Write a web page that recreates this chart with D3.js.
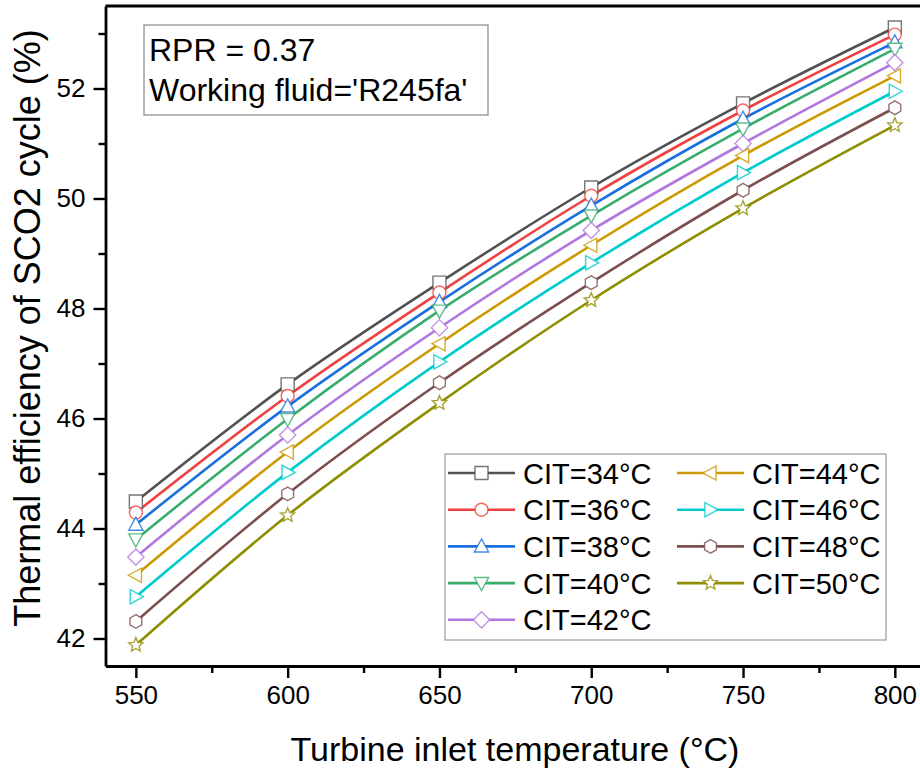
<!DOCTYPE html>
<html>
<head>
<meta charset="utf-8">
<script src="https://cdn.jsdelivr.net/npm/d3@7"></script>
<style>
  html, body { margin: 0; padding: 0; background: #fff; }
  svg { display: block; font-family: "Liberation Sans", Arial, sans-serif; }
</style>
</head>
<body>
<svg id="chart" width="920" height="772"></svg>
<script>
// ---- Data ----
const turbineInletTemp = [550, 600, 650, 700, 750, 800];
const seriesNames = ["CIT=34°C", "CIT=36°C", "CIT=38°C", "CIT=40°C", "CIT=42°C",
                     "CIT=44°C", "CIT=46°C", "CIT=48°C", "CIT=50°C"];
const cit34 = [44.49, 46.62, 48.47, 50.20, 51.73, 53.11];
const cit36 = [44.29, 46.41, 48.29, 50.05, 51.60, 52.98];
const cit38 = [44.07, 46.22, 48.12, 49.87, 51.45, 52.84];
const cit40 = [43.80, 45.99, 47.96, 49.69, 51.27, 52.72];
const cit42 = [43.48, 45.70, 47.65, 49.42, 51.00, 52.47];
const cit44 = [43.15, 45.39, 47.36, 49.15, 50.78, 52.23];
const cit46 = [42.76, 45.02, 47.03, 48.83, 50.47, 51.95];
const cit48 = [42.31, 44.63, 46.65, 48.47, 50.15, 51.65];
const cit50 = [41.88, 44.24, 46.28, 48.15, 49.82, 51.33];
const xTickValues = [550, 600, 650, 700, 750, 800];
const xMinorTicks = [575, 625, 675, 725, 775];
const yTickValues = [42, 44, 46, 48, 50, 52];
const yMinorTicks = [43, 45, 47, 49, 51, 53];
const annotationLines = ["RPR = 0.37", "Working fluid='R245fa'"];

const seriesValues = [cit34, cit36, cit38, cit40, cit42, cit44, cit46, cit48, cit50];
const colors = ["#515151", "#F14040", "#1A6FDF", "#37AD6B", "#B177DE",
                "#CC9900", "#00CBCC", "#7D4E4E", "#8E8E00"];
const shapes = ["square", "circle", "triUp", "triDown", "diamond",
                "triLeft", "triRight", "hexagon", "star"];

// ---- Layout ----
const svg = d3.select("#chart");
const x = d3.scaleLinear().domain([540, 810]).range([105.5, 925.2]);
const y = d3.scaleLinear().domain([41.5, 53.5]).range([666, 6]);

function markerPath(shape, r) {
  const p = d3.path();
  if (shape === "square") { p.rect(-r, -r, 2*r, 2*r); }
  else if (shape === "circle") { p.moveTo(r, 0); p.arc(0, 0, r, 0, 2*Math.PI); }
  else if (shape === "triUp") { const s=r*1.15; p.moveTo(0,-s); p.lineTo(s*0.95, s*0.75); p.lineTo(-s*0.95, s*0.75); p.closePath(); }
  else if (shape === "triDown") { const s=r*1.15; p.moveTo(0,s); p.lineTo(s*0.95,-s*0.75); p.lineTo(-s*0.95,-s*0.75); p.closePath(); }
  else if (shape === "triLeft") { const s=r*1.15; p.moveTo(-s,0); p.lineTo(s*0.75,-s*0.95); p.lineTo(s*0.75,s*0.95); p.closePath(); }
  else if (shape === "triRight") { const s=r*1.15; p.moveTo(s,0); p.lineTo(-s*0.75,-s*0.95); p.lineTo(-s*0.75,s*0.95); p.closePath(); }
  else if (shape === "diamond") { const s=r*1.25; p.moveTo(0,-s); p.lineTo(s,0); p.lineTo(0,s); p.lineTo(-s,0); p.closePath(); }
  else if (shape === "hexagon") {
    for (let i=0;i<6;i++){ const a=Math.PI/6 + i*Math.PI/3; const px=r*1.05*Math.cos(a), py=r*1.05*Math.sin(a); if(i===0)p.moveTo(px,py); else p.lineTo(px,py);} p.closePath();
  }
  else if (shape === "star") {
    const R=r*1.15, ri=R*0.45;
    for (let i=0;i<10;i++){ const a=-Math.PI/2 + i*Math.PI/5; const rr = i%2===0?R:ri; const px=rr*Math.cos(a), py=rr*Math.sin(a); if(i===0)p.moveTo(px,py); else p.lineTo(px,py);} p.closePath();
  }
  return p.toString();
}

// ---- Series lines ----
const line = d3.line().x((d,i)=>x(turbineInletTemp[i])).y(d=>y(d)).curve(d3.curveMonotoneX);
const gSeries = svg.append("g");
seriesValues.forEach((vals, k) => {
  gSeries.append("path").attr("d", line(vals)).attr("fill","none")
    .attr("stroke", colors[k]).attr("stroke-width", 2.6);
});
seriesValues.forEach((vals, k) => {
  gSeries.selectAll(null).data(vals).enter().append("path")
    .attr("transform", (d,i)=>`translate(${x(turbineInletTemp[i])},${y(d)})`)
    .attr("d", markerPath(shapes[k], 6.5))
    .attr("fill", "#fff").attr("stroke", colors[k]).attr("stroke-opacity", 0.8)
    .attr("stroke-width", 1.4);
});

// ---- Axes ----
const axisColor = "#000";
const gx = svg.append("g").attr("transform", `translate(0,666)`);
gx.call(d3.axisBottom(x).tickValues(xTickValues).tickSize(12).tickSizeOuter(0).tickPadding(8).tickFormat(d3.format("d")));
const gxm = svg.append("g").attr("transform", `translate(0,666)`);
gxm.call(d3.axisBottom(x).tickValues(xMinorTicks).tickSize(7).tickFormat(""));
gxm.select(".domain").remove();

const gy = svg.append("g").attr("transform", `translate(105.5,0)`);
gy.call(d3.axisLeft(y).tickValues(yTickValues).tickSize(12).tickSizeOuter(0).tickPadding(8).tickFormat(d3.format("d")));
const gym = svg.append("g").attr("transform", `translate(105.5,0)`);
gym.call(d3.axisLeft(y).tickValues(yMinorTicks).tickSize(7).tickFormat(""));
gym.select(".domain").remove();

[gx, gxm, gy, gym].forEach(g => {
  g.selectAll("path.domain").attr("stroke", axisColor).attr("stroke-width", 2.8);
  g.selectAll(".tick line").attr("stroke", axisColor).attr("stroke-width", 2.4);
  g.selectAll(".tick text").attr("fill", "#000").style("font-size", "26px")
    .style("font-family", "'Liberation Sans', Arial, sans-serif");
});
// top border
svg.append("line").attr("x1", x(540)).attr("x2", x(810)).attr("y1", y(53.5)).attr("y2", y(53.5))
  .attr("stroke", "#000").attr("stroke-width", 2.8);
svg.append("line").attr("x1", x(810)).attr("x2", x(810)).attr("y1", y(53.5)).attr("y2", y(41.5))
  .attr("stroke", "#000").attr("stroke-width", 2.8);

// ---- Axis titles ----
svg.append("text").attr("x", 515).attr("y", 761).attr("text-anchor","middle")
  .style("font-size","34px").text("Turbine inlet temperature (°C)");
svg.append("text").attr("transform", `translate(40,${(y(53.5)+y(41.5))/2 - 8}) rotate(-90)`)
  .attr("text-anchor","middle").style("font-size","36px").text("Thermal efficiency of SCO2 cycle (%)");

// ---- Annotation box ----
svg.append("rect").attr("x", 144).attr("y", 25).attr("width", 344).attr("height", 90)
  .attr("fill","#fff").attr("stroke","#888").attr("stroke-width",1.2);
annotationLines.forEach((t,i)=>{
  svg.append("text").attr("x",149).attr("y", 61 + i*40).style("font-size","32px").text(t);
});

// ---- Legend ----
const lg = svg.append("g");
lg.append("rect").attr("x",445).attr("y",454).attr("width",441).attr("height",186)
  .attr("fill","#fff").attr("stroke","#999").attr("stroke-width",1.2);
const rowH = 36.7;
seriesNames.forEach((name,k)=>{
  const col = k < 5 ? 0 : 1;
  const row = k < 5 ? k : k-5;
  const cy = 473 + row*rowH;
  const x0 = col===0 ? 448 : 677;
  lg.append("line").attr("x1",x0).attr("x2",x0+67).attr("y1",cy).attr("y2",cy)
    .attr("stroke",colors[k]).attr("stroke-width",2.6);
  lg.append("path").attr("transform",`translate(${x0+33.5},${cy})`).attr("d",markerPath(shapes[k],6.5))
    .attr("fill","#fff").attr("stroke",colors[k]).attr("stroke-opacity",0.8).attr("stroke-width",1.4);
  lg.append("text").attr("x",x0+75).attr("y",cy+10.5).style("font-size","29px").text(name);
});
</script>
</body>
</html>
